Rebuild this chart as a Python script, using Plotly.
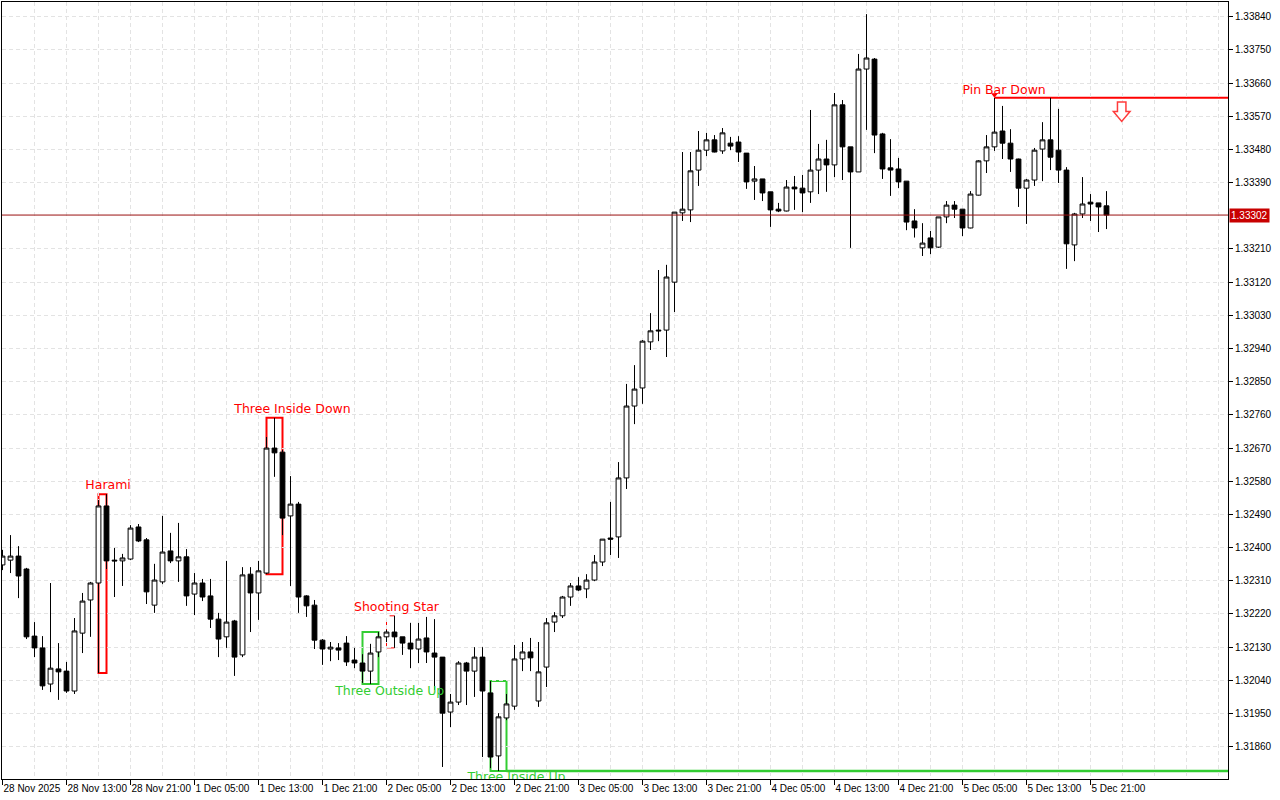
import plotly.graph_objects as go

# ---------------- data (H1 bars, GBPUSD-like) ----------------
bar_index = list(range(139))

open_prices = [
    1.32353, 1.32366, 1.32377, 1.32342, 1.32160, 1.32128, 1.32030, 1.32071, 1.32065, 1.32011,
    1.32168, 1.32258, 1.32304, 1.32513, 1.32366, 1.32364, 1.32369, 1.32456, 1.32421, 1.32244,
    1.32307, 1.32391, 1.32364, 1.32375, 1.32274, 1.32304, 1.32269, 1.32206, 1.32158, 1.32201,
    1.32109, 1.32328, 1.32277, 1.32331, 1.32670, 1.32659, 1.32486, 1.32518, 1.32269, 1.32244,
    1.32149, 1.32125, 1.32128, 1.32141, 1.32095, 1.32087, 1.32065, 1.32117, 1.32158, 1.32171,
    1.32158, 1.32141, 1.32125, 1.32155, 1.32114, 1.32103, 1.31954, 1.31981, 1.32087, 1.32065,
    1.32103, 1.32006, 1.31835, 1.31938, 1.31970, 1.32098, 1.32117, 1.31984, 1.32076, 1.32198,
    1.32215, 1.32266, 1.32296, 1.32288, 1.32312, 1.32361, 1.32426, 1.32429, 1.32589, 1.32784,
    1.32833, 1.32958, 1.32990, 1.32990, 1.33120, 1.33308, 1.33316, 1.33424, 1.33478, 1.33506,
    1.33476, 1.33497, 1.33500, 1.33470, 1.33394, 1.33400, 1.33365, 1.33318, 1.33313, 1.33378,
    1.33375, 1.33365, 1.33424, 1.33454, 1.33438, 1.33601, 1.33487, 1.33419, 1.33698, 1.33725,
    1.33522, 1.33430, 1.33427, 1.33394, 1.33286, 1.33213, 1.33240, 1.33215, 1.33297, 1.33329,
    1.33318, 1.33267, 1.33356, 1.33449, 1.33487, 1.33530, 1.33497, 1.33454, 1.33375, 1.33397,
    1.33481, 1.33506, 1.33478, 1.33424, 1.33221, 1.33305, 1.33337, 1.33335, 1.33327,
]

high_prices = [
    1.32394, 1.32434, 1.32404, 1.32345, 1.32198, 1.32160, 1.32304, 1.32141, 1.32090, 1.32209,
    1.32277, 1.32307, 1.32529, 1.32545, 1.32399, 1.32383, 1.32461, 1.32464, 1.32426, 1.32356,
    1.32486, 1.32440, 1.32467, 1.32396, 1.32331, 1.32315, 1.32315, 1.32223, 1.32364, 1.32204,
    1.32347, 1.32347, 1.32364, 1.32700, 1.32752, 1.32665, 1.32594, 1.32524, 1.32271, 1.32258,
    1.32152, 1.32144, 1.32141, 1.32160, 1.32128, 1.32111, 1.32139, 1.32171, 1.32177, 1.32215,
    1.32158, 1.32196, 1.32196, 1.32212, 1.32206, 1.32103, 1.32003, 1.32092, 1.32090, 1.32130,
    1.32130, 1.32038, 1.31951, 1.32003, 1.32136, 1.32144, 1.32155, 1.32144, 1.32209, 1.32225,
    1.32269, 1.32304, 1.32320, 1.32328, 1.32380, 1.32423, 1.32524, 1.32632, 1.32844, 1.32895,
    1.32963, 1.33036, 1.33153, 1.33167, 1.33310, 1.33473, 1.33473, 1.33530, 1.33525, 1.33519,
    1.33538, 1.33514, 1.33516, 1.33470, 1.33435, 1.33400, 1.33365, 1.33335, 1.33397, 1.33408,
    1.33411, 1.33587, 1.33495, 1.33506, 1.33633, 1.33614, 1.33487, 1.33739, 1.33847, 1.33728,
    1.33525, 1.33508, 1.33457, 1.33394, 1.33318, 1.33280, 1.33259, 1.33297, 1.33340, 1.33340,
    1.33318, 1.33367, 1.33451, 1.33519, 1.33620, 1.33598, 1.33535, 1.33455, 1.33400, 1.33484,
    1.33554, 1.33620, 1.33590, 1.33432, 1.33308, 1.33405, 1.33359, 1.33335, 1.33367,
]

low_prices = [
    1.32339, 1.32331, 1.32263, 1.32152, 1.32103, 1.32014, 1.32008, 1.31987, 1.32006, 1.32003,
    1.32114, 1.32158, 1.32060, 1.32342, 1.32266, 1.32296, 1.32366, 1.32415, 1.32247, 1.32223,
    1.32301, 1.32358, 1.32307, 1.32242, 1.32217, 1.32255, 1.32182, 1.32103, 1.32128, 1.32052,
    1.32103, 1.32171, 1.32204, 1.32328, 1.32592, 1.32434, 1.32296, 1.32223, 1.32212, 1.32125,
    1.32082, 1.32092, 1.32095, 1.32079, 1.32073, 1.32033, 1.32030, 1.32103, 1.32144, 1.32128,
    1.32109, 1.32073, 1.32087, 1.32087, 1.32014, 1.31805, 1.31913, 1.31973, 1.31973, 1.31995,
    1.31832, 1.31802, 1.31794, 1.31932, 1.31960, 1.32065, 1.32065, 1.31968, 1.32022, 1.32171,
    1.32209, 1.32242, 1.32282, 1.32263, 1.32309, 1.32350, 1.32380, 1.32372, 1.32559, 1.32735,
    1.32790, 1.32936, 1.32960, 1.32917, 1.33039, 1.33286, 1.33283, 1.33381, 1.33462, 1.33472,
    1.33468, 1.33478, 1.33446, 1.33373, 1.33343, 1.33340, 1.33270, 1.33310, 1.33312, 1.33316,
    1.33310, 1.33335, 1.33359, 1.33365, 1.33405, 1.33397, 1.33213, 1.33419, 1.33533, 1.33470,
    1.33400, 1.33354, 1.33375, 1.33261, 1.33241, 1.33191, 1.33196, 1.33213, 1.33280, 1.33294,
    1.33245, 1.33266, 1.33355, 1.33416, 1.33476, 1.33454, 1.33419, 1.33324, 1.33278, 1.33381,
    1.33394, 1.33424, 1.33389, 1.33156, 1.33177, 1.33294, 1.33286, 1.33256, 1.33264,
]

close_prices = [
    1.32377, 1.32377, 1.32323, 1.32158, 1.32128, 1.32025, 1.32073, 1.32063, 1.32011, 1.32174,
    1.32255, 1.32304, 1.32513, 1.32364, 1.32364, 1.32372, 1.32453, 1.32418, 1.32280, 1.32312,
    1.32388, 1.32364, 1.32375, 1.32269, 1.32304, 1.32266, 1.32206, 1.32152, 1.32198, 1.32103,
    1.32326, 1.32277, 1.32337, 1.32670, 1.32657, 1.32480, 1.32518, 1.32266, 1.32242, 1.32149,
    1.32125, 1.32130, 1.32122, 1.32090, 1.32087, 1.32065, 1.32114, 1.32158, 1.32171, 1.32158,
    1.32141, 1.32125, 1.32152, 1.32117, 1.32103, 1.31951, 1.31981, 1.32087, 1.32065, 1.32103,
    1.32011, 1.31832, 1.31941, 1.31976, 1.32098, 1.32117, 1.32101, 1.32063, 1.32196, 1.32215,
    1.32266, 1.32296, 1.32285, 1.32312, 1.32361, 1.32423, 1.32423, 1.32589, 1.32784, 1.32830,
    1.32960, 1.32988, 1.32988, 1.33134, 1.33310, 1.33318, 1.33422, 1.33478, 1.33506, 1.33473,
    1.33525, 1.33489, 1.33473, 1.33392, 1.33400, 1.33362, 1.33316, 1.33313, 1.33378, 1.33373,
    1.33362, 1.33424, 1.33454, 1.33438, 1.33601, 1.33487, 1.33419, 1.33698, 1.33728, 1.33519,
    1.33427, 1.33424, 1.33392, 1.33283, 1.33267, 1.33226, 1.33213, 1.33297, 1.33329, 1.33318,
    1.33267, 1.33359, 1.33449, 1.33487, 1.33527, 1.33497, 1.33454, 1.33375, 1.33397, 1.33478,
    1.33506, 1.33459, 1.33424, 1.33224, 1.33305, 1.33332, 1.33332, 1.33324, 1.33302,
]

x_tick_bars = [0, 8, 16, 24, 32, 40, 48, 56, 64, 72, 80, 88, 96, 104, 112, 120, 128, 136]
x_tick_labels = [
    "28 Nov 2025", "28 Nov 13:00", "28 Nov 21:00", "1 Dec 05:00", "1 Dec 13:00",
    "1 Dec 21:00", "2 Dec 05:00", "2 Dec 13:00", "2 Dec 21:00", "3 Dec 05:00",
    "3 Dec 13:00", "3 Dec 21:00", "4 Dec 05:00", "4 Dec 13:00", "4 Dec 21:00",
    "5 Dec 05:00", "5 Dec 13:00", "5 Dec 21:00",
]

y_tick_values = [
    1.31860, 1.31950, 1.32040, 1.32130, 1.32220, 1.32310, 1.32400, 1.32490, 1.32580, 1.32670,
    1.32760, 1.32850, 1.32940, 1.33030, 1.33120, 1.33210, 1.33390, 1.33480, 1.33570,
    1.33660, 1.33750, 1.33840,
]
y_tick_labels = [
    "1.31860", "1.31950", "1.32040", "1.32130", "1.32220", "1.32310", "1.32400", "1.32490",
    "1.32580", "1.32670", "1.32760", "1.32850", "1.32940", "1.33030", "1.33120", "1.33210",
    "1.33390", "1.33480", "1.33570", "1.33660", "1.33750", "1.33840",
]

# candlestick pattern annotations
pattern_names = ["Harami", "Three Inside Down", "Shooting Star", "Three Outside Up",
                 "Three Inside Up", "Pin Bar Down"]
pattern_start = [12, 33, 48, 45, 61, 124]
pattern_end = [13, 35, 49, 47, 63, 124]
pattern_colors = ["#FF0000", "#FF0000", "#FF0000", "#32CD32", "#32CD32", "#FF0000"]
label_x = [13.2, 36.25, 49.25, 48.4, 64.25, 125.2]
label_y = [1.32567, 1.32773, 1.32236, 1.32008, 1.31775, 1.33638]

signal_bar = 139.9          # sell-signal arrow position
signal_price = 1.33609

# ---------------- layout constants ----------------
X_RANGE = [-0.0625, 153.1875]
Y_RANGE = [1.317724, 1.338799]
GRID = "#E3E3E3"
AXIS_FONT = dict(family="Liberation Sans, Arial, sans-serif", size=10, color="black")

fig = go.Figure()

fig.add_trace(go.Candlestick(
    x=bar_index, open=open_prices, high=high_prices, low=low_prices, close=close_prices,
    increasing=dict(line=dict(color="black", width=1), fillcolor="white"),
    decreasing=dict(line=dict(color="black", width=1), fillcolor="black"),
    whiskerwidth=0, hoverinfo="skip", showlegend=False,
))

shapes = []
for name, s, e, col in zip(pattern_names, pattern_start, pattern_end, pattern_colors):
    lo = min(low_prices[s:e + 1])
    hi = max(high_prices[s:e + 1])
    if name == "Pin Bar Down":
        shapes.append(dict(type="line", xref="x", yref="y", x0=s, x1=X_RANGE[1],
                           y0=hi, y1=hi, line=dict(color=col, width=2), layer="below"))
        continue
    dash = "dash" if name == "Shooting Star" else "solid"
    width = 1 if name == "Shooting Star" else 2
    shapes.append(dict(type="rect", xref="x", yref="y", x0=s, x1=e, y0=lo, y1=hi,
                       line=dict(color=col, width=width, dash=dash),
                       fillcolor="rgba(0,0,0,0)", layer="below"))
    if name == "Three Inside Up":
        shapes.append(dict(type="line", xref="x", yref="y", x0=e, x1=X_RANGE[1],
                           y0=lo, y1=lo, line=dict(color=col, width=2.5), layer="below"))

# current price line
last_price = close_prices[-1]
shapes.append(dict(type="line", xref="paper", yref="y", x0=0, x1=1, y0=last_price,
                   y1=last_price, line=dict(color="#9A1010", width=1), layer="above"))

# sell arrow (outlined down arrow)
sx, sy = signal_bar, signal_price
hw_shaft, hw_head = 0.53, 1.04
y_mid, y_tip = sy - 0.00026, sy - 0.00053
arrow_path = (f"M {sx - hw_shaft} {sy} L {sx + hw_shaft} {sy} L {sx + hw_shaft} {y_mid} "
              f"L {sx + hw_head} {y_mid} L {sx} {y_tip} L {sx - hw_head} {y_mid} "
              f"L {sx - hw_shaft} {y_mid} Z")
shapes.append(dict(type="path", xref="x", yref="y", path=arrow_path,
                   line=dict(color="#FF3B3B", width=1.5), fillcolor="white", layer="above"))

# pin-bar marker
fig.add_trace(go.Scatter(
    x=[pattern_start[5]], y=[high_prices[pattern_start[5]] + 0.00008], mode="markers",
    marker=dict(symbol="triangle-down", size=6, color="#FF0000"),
    hoverinfo="skip", showlegend=False, cliponaxis=True,
))

# pattern labels
fig.add_trace(go.Scatter(
    x=label_x, y=label_y, mode="text", text=pattern_names, textposition="middle center",
    textfont=dict(family="DejaVu Sans, sans-serif", size=12.5, color=pattern_colors),
    hoverinfo="skip", showlegend=False, cliponaxis=True,
))

fig.update_layout(
    width=1280, height=800,
    margin=dict(l=2, r=52, t=2, b=21, autoexpand=False),
    paper_bgcolor="white", plot_bgcolor="white",
    showlegend=False, boxgap=0.4, boxgroupgap=0,
    font=AXIS_FONT,
    shapes=shapes,
    annotations=[dict(
        xref="paper", yref="y", x=1, y=last_price, xanchor="left", yanchor="middle",
        xshift=1, text=f"{last_price:.5f}", showarrow=False,
        font=dict(family="Liberation Sans, Arial, sans-serif", size=10, color="white"),
        bgcolor="#C80000", borderpad=1,
    )],
    xaxis=dict(
        range=X_RANGE, showline=True, linecolor="black", linewidth=1, mirror=True,
        ticks="outside", ticklen=5, tickcolor="black", tickwidth=1, tickangle=0,
        tickvals=x_tick_bars, ticktext=x_tick_labels, ticklabelposition="outside right",
        showgrid=True, gridcolor=GRID, gridwidth=1, griddash="4px,3px",
        minor=dict(dtick=4, tick0=0, showgrid=True, gridcolor=GRID, gridwidth=1,
                   griddash="4px,3px", ticks=""),
        rangeslider=dict(visible=False), zeroline=False, fixedrange=True, automargin=False,
    ),
    yaxis=dict(
        range=Y_RANGE, side="right", showline=True, linecolor="black", linewidth=1,
        mirror=True, ticks="outside", ticklen=4, tickcolor="black", tickwidth=1,
        tickvals=y_tick_values, ticktext=y_tick_labels,
        showgrid=True, gridcolor=GRID, gridwidth=1, griddash="4px,3px",
        zeroline=False, fixedrange=True, automargin=False,
    ),
)

fig.write_html("out.html", config={"displayModeBar": False},
               post_script="document.body.style.margin='0';")
